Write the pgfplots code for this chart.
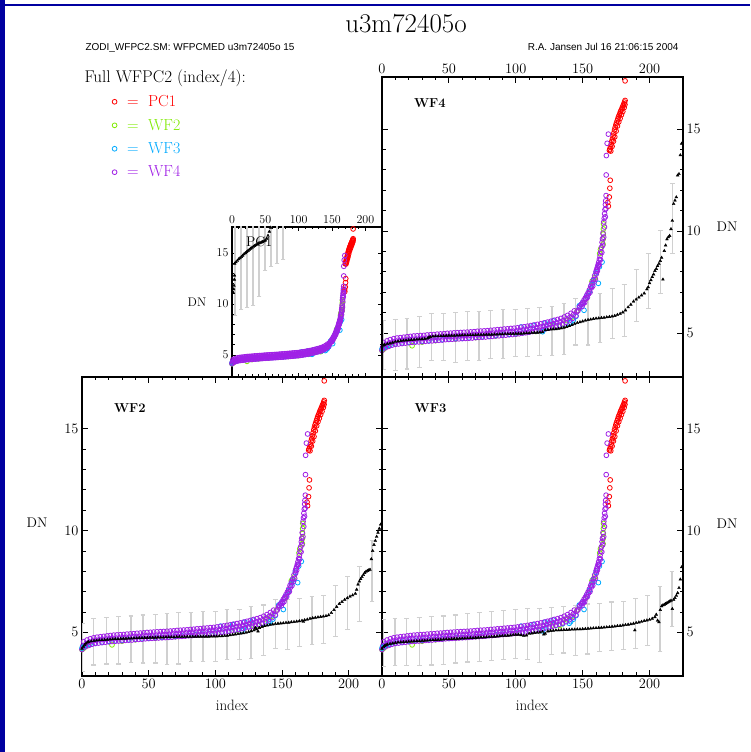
\documentclass[border=0pt]{standalone}
\usepackage{fontspec}
\usepackage{pgfplots}
\usepackage{pgfplotstable}
\pgfplotsset{compat=1.18}
\newfontfamily\hdrfont{Liberation Sans}
\definecolor{cPC}{RGB}{255,0,0}
\definecolor{cWFtwo}{RGB}{128,235,0}
\definecolor{cWFthree}{RGB}{0,170,255}
\definecolor{cWFfour}{RGB}{160,32,230}
\definecolor{errgray}{RGB}{208,208,208}
\definecolor{frameblue}{RGB}{0,0,160}

% ---------- Full WFPC2 sorted samples (index/4), coloured by chip ----------
\pgfplotstableread{
x y
168.8 11.40
169.2 11.22
169.9 11.67
170.3 12.10
170.6 12.49
170.0 13.95
170.3 14.02
170.8 14.12
171.3 14.25
171.8 14.40
172.3 14.52
172.8 14.66
173.3 14.80
173.8 14.95
174.3 15.08
174.8 15.20
175.3 15.30
175.8 15.40
176.3 15.50
176.8 15.60
177.3 15.68
177.8 15.76
178.3 15.85
178.8 15.93
179.3 16.00
179.8 16.08
180.3 16.16
180.8 16.24
181.3 16.32
181.7 16.40
171.0 13.92
172.0 14.15
173.0 14.40
174.0 14.62
175.0 14.90
176.0 15.15
177.0 15.35
178.0 15.52
179.0 15.70
180.0 15.86
181.0 16.05
181.6 16.20
181.7 17.36
}\pcc
\pgfplotstableread{
x y
0 4.15
1 4.20
2.5 4.30
5 4.40
22.5 4.38
30 4.56
40 4.63
55 4.71
70 4.78
85 4.86
100 4.95
115 5.08
127.5 5.36
133 5.33
138 5.62
142 5.78
146 6.10
152 6.65
155 7.05
157 7.54
159 7.72
162.75 8.90
163.3 9.10
165.2 9.36
165.3 9.60
165.4 9.85
165.5 10.10
165.6 10.35
}\wftwoc
\pgfplotstableread{
x y
0 4.22
1 4.28
2 4.33
3.5 4.38
6 4.42
10 4.47
15 4.52
20 4.56
25 4.58
30 4.61
35 4.63
40 4.66
45 4.68
50 4.71
55 4.73
60 4.75
65 4.77
70 4.80
75 4.82
80 4.85
85 4.88
90 4.91
95 4.94
100 4.97
104 5.30
105 5.01
110 5.06
113 5.38
115 5.11
120 5.07
121 5.18
122 5.50
125 5.27
128 5.60
130 5.34
135 5.42
140 5.44
141 5.52
143 5.64
145 5.82
147.5 6.34
149 6.40
150 6.50
151 6.12
153 6.78
155 7.05
157 7.38
158 7.58
160 7.95
161.75 7.44
162.5 8.25
164.5 8.48
}\wfthreec
\pgfplotstableread{
x y
0 4.15
2.5 4.28
5 4.35
7.5 4.41
10 4.45
12.5 4.47
15 4.49
17.5 4.51
20 4.53
22.5 4.55
25 4.56
27.5 4.57
30 4.58
32.5 4.60
35 4.61
37.5 4.62
40 4.64
42.5 4.65
45 4.66
47.5 4.68
50 4.69
52.5 4.70
55 4.71
57.5 4.72
60 4.73
62.5 4.74
65 4.75
67.5 4.76
70 4.78
72.5 4.79
75 4.80
77.5 4.81
80 4.83
82.5 4.84
85 4.86
87.5 4.87
90 4.89
92.5 4.90
95 4.92
97.5 4.93
100 4.95
102.5 4.97
105 5.00
107.5 5.02
110 5.05
112.5 5.08
115 5.11
117.5 5.14
120 5.18
122.5 5.22
125 5.26
127.5 5.30
130 5.35
132.5 5.39
135 5.45
137.5 5.52
140 5.61
142.5 5.72
145 5.85
0.6 4.33
3.1 4.45
5.6 4.52
8.1 4.57
10.6 4.61
13.1 4.63
15.6 4.65
18.1 4.67
20.6 4.69
23.1 4.70
25.6 4.71
28.1 4.72
30.6 4.74
33.1 4.75
35.6 4.76
38.1 4.78
40.6 4.79
43.1 4.80
45.6 4.82
48.1 4.83
50.6 4.84
53.1 4.85
55.6 4.86
58.1 4.87
60.6 4.88
63.1 4.89
65.6 4.90
68.1 4.92
70.6 4.93
73.1 4.94
75.6 4.95
78.1 4.97
80.6 4.98
83.1 5.00
85.6 5.01
88.1 5.03
90.6 5.04
93.1 5.06
95.6 5.07
98.1 5.09
100.6 5.11
103.1 5.13
105.6 5.16
108.1 5.18
110.6 5.21
113.1 5.24
115.6 5.27
118.1 5.30
120.6 5.34
123.1 5.38
125.6 5.42
128.1 5.46
130.6 5.51
133.1 5.56
135.6 5.62
138.1 5.70
140.6 5.79
143.1 5.91
145.6 6.04
1.25 4.54
3.75 4.62
6.25 4.68
8.75 4.73
11.25 4.76
13.75 4.78
16.25 4.80
18.75 4.82
21.25 4.84
23.75 4.86
26.25 4.87
28.75 4.88
31.25 4.89
33.75 4.91
36.25 4.92
38.75 4.93
41.25 4.95
43.75 4.96
46.25 4.97
48.75 4.99
51.25 5.00
53.75 5.01
56.25 5.02
58.75 5.03
61.25 5.04
63.75 5.05
66.25 5.06
68.75 5.07
71.25 5.09
73.75 5.10
76.25 5.11
78.75 5.12
81.25 5.14
83.75 5.15
86.25 5.17
88.75 5.18
91.25 5.20
93.75 5.21
96.25 5.23
98.75 5.24
101.25 5.26
103.75 5.29
106.25 5.31
108.75 5.34
111.25 5.37
113.75 5.40
116.25 5.43
118.75 5.46
121.25 5.50
123.75 5.54
126.25 5.58
128.75 5.63
131.25 5.67
133.75 5.72
136.25 5.79
138.75 5.87
141.25 5.97
143.75 6.09
146.5 6.10
147.5 6.25
148 6.32
149 6.40
150 6.50
151 6.62
152 6.72
153 6.85
154 6.97
155 7.12
156 7.30
157 7.45
158 7.62
159 7.82
160 8.02
160.5 8.12
161 8.22
161.5 8.34
162 8.47
162.5 8.62
163 8.78
163.5 8.98
164 9.20
164.5 9.45
164.8 9.62
165.2 9.90
165.8 10.45
166.1 10.62
166.4 10.85
166.7 11.05
167 11.30
167.2 11.48
167.5 11.74
167.6 12.75
167.7 13.70
168.3 14.30
169.2 14.75
150.5 6.45
152.5 6.68
154.5 6.93
156.5 7.22
158.5 7.50
160.2 7.90
161.8 8.30
149.5 6.30
151.5 6.50
153.5 6.75
155.5 7.00
157.5 7.30
159.5 7.65
161 8.05
162.3 8.35
163.3 8.60
164.3 8.95
165 9.30
165.7 9.70
166.3 10.20
166.9 10.70
167.4 11.10
}\wffourc

% ---------- per-chip sorted values (black triangles) ----------
\pgfplotstableread{
x y
2 11.10
2.5 11.45
3 11.80
3.5 12.40
3.7 12.80
4 13.97
6 14.10
8 14.25
10 14.40
12 14.50
14 14.62
16 14.75
18 14.88
20 15.00
22 15.10
24 15.22
26 15.33
28 15.44
30 15.54
32 15.62
34 15.70
36 15.79
38 15.87
40 15.95
42 16.00
44 16.05
46 16.10
48 16.17
50 16.23
52 16.40
54 16.70
56 17.10
58 17.50
60 18.00
}\pcb
\pgfplotstableread{
x y
0 4.20
1 4.30
2 4.38
3 4.45
4 4.50
5 4.53
7 4.56
9 4.58
11 4.60
13 4.61
15 4.62
17 4.63
19 4.64
21 4.65
23 4.66
25 4.67
27 4.67
29 4.68
31 4.69
33 4.69
35 4.70
37 4.70
39 4.71
41 4.71
43 4.72
45 4.72
47 4.73
49 4.73
51 4.74
53 4.74
55 4.74
57 4.75
59 4.75
61 4.75
63 4.76
65 4.76
67 4.76
69 4.76
71 4.77
73 4.77
75 4.77
77 4.77
79 4.78
81 4.78
83 4.78
85 4.78
87 4.79
89 4.79
91 4.79
93 4.79
95 4.79
97 4.80
99 4.80
101 4.80
103 4.81
105 4.81
107 4.82
109 4.84
111 4.86
113 4.88
115 4.90
117 4.92
119 4.94
121 4.96
123 4.98
125 5.02
127 5.06
129 5.10
130 5.22
131 5.15
132 5.05
133 5.22
135 5.27
137 5.31
139 5.34
141 5.37
143 5.39
145 5.41
147 5.43
149 5.44
151 5.45
153 5.47
155 5.48
157 5.50
159 5.51
161 5.53
163 5.55
165 5.57
166 5.52
167 5.60
169 5.63
171 5.67
173 5.70
175 5.72
177 5.74
179 5.76
181 5.78
183 5.80
185 5.84
187 5.95
189 6.10
191 6.25
193 6.40
195 6.50
197 6.60
199 6.68
201 6.76
203 6.82
205 6.90
206 7.10
207 7.35
208 7.50
209 7.62
210 7.72
211 7.82
212 7.92
213 7.98
214 8.02
215 8.05
216 8.08
217 8.60
218 9.00
219 9.30
220 9.50
221 9.70
222 9.90
223 10.10
224 10.30
}\wftwob
\pgfplotstableread{
x y
0 4.20
1 4.28
2 4.33
3 4.37
4 4.40
6 4.43
8 4.46
10 4.48
12 4.50
14 4.51
16 4.52
18 4.53
20 4.54
22 4.55
24 4.56
26 4.57
28 4.57
30 4.58
32 4.59
34 4.60
36 4.61
38 4.62
40 4.62
42 4.63
44 4.64
46 4.65
48 4.66
50 4.66
52 4.67
54 4.68
56 4.68
58 4.69
60 4.70
62 4.70
64 4.71
66 4.72
68 4.72
70 4.73
72 4.74
74 4.75
76 4.75
78 4.76
80 4.77
82 4.78
84 4.79
86 4.80
88 4.81
90 4.82
92 4.83
94 4.84
96 4.85
98 4.87
100 4.88
102 4.89
104 4.86
106 4.83
108 4.85
110 4.93
112 4.95
114 4.97
116 4.98
118 5.00
120 5.03
121 4.90
122 4.93
124 5.05
126 5.07
128 5.08
130 5.10
132 5.10
134 5.11
136 5.12
138 5.12
140 5.13
142 5.14
144 5.14
146 5.15
148 5.15
150 5.16
152 5.17
154 5.18
156 5.19
158 5.20
160 5.21
162 5.22
164 5.23
166 5.24
168 5.25
170 5.26
172 5.28
174 5.29
176 5.31
178 5.32
180 5.34
182 5.36
184 5.38
186 5.40
188 5.43
189 5.10
190 5.46
192 5.49
194 5.52
196 5.56
198 5.59
200 5.62
202 5.67
204 5.75
205 5.87
206 5.58
207 5.50
208 6.10
209 6.28
210 6.33
211 6.36
212 6.40
213 6.44
214 6.48
215 6.52
216 6.56
217 6.15
218 6.60
219 6.69
220 6.80
221 6.93
222 7.18
223 7.60
224 8.20
}\wfthreeb
\pgfplotstableread{
x y
0 4.35
1 4.40
2 4.43
4 4.47
6 4.50
8 4.54
10 4.58
12 4.60
14 4.62
16 4.64
18 4.65
20 4.66
22 4.67
24 4.68
26 4.69
28 4.70
30 4.71
32 4.72
34 4.74
35 4.78
36 4.82
38 4.84
40 4.85
42 4.85
44 4.86
46 4.86
48 4.87
50 4.88
52 4.88
54 4.88
56 4.89
58 4.89
60 4.90
62 4.90
64 4.90
66 4.91
68 4.91
70 4.91
72 4.92
74 4.92
76 4.92
78 4.93
80 4.93
82 4.93
84 4.94
86 4.94
88 4.95
90 4.95
92 4.96
94 4.96
96 4.96
98 4.97
100 4.97
102 4.98
104 4.98
106 4.99
108 5.00
110 5.00
112 5.01
114 5.02
116 5.03
118 5.04
120 5.05
122 5.15
124 5.16
126 5.18
128 5.19
130 5.20
132 5.22
134 5.24
136 5.27
138 5.31
140 5.35
142 5.40
144 5.45
146 5.50
148 5.54
150 5.58
152 5.62
154 5.65
156 5.67
158 5.70
160 5.72
162 5.73
164 5.75
166 5.76
168 5.78
170 5.80
172 5.82
174 5.85
176 5.90
178 5.95
180 6.02
182 6.12
184 6.27
186 6.40
188 6.55
190 6.65
192 6.75
194 6.85
196 6.95
198 7.15
199 7.25
200 7.45
201 7.60
202 7.75
203 7.88
204 8.05
205 8.15
206 8.29
207 8.40
208 8.54
209 8.70
210 7.63
211 9.03
212 9.30
213 9.60
214 9.70
215 9.77
216 10.10
217 10.51
218 11.33
219 11.50
220 11.66
221 12.73
222 12.80
223 13.72
224 14.29
}\wffourb

% ---------- binned error bars ----------
\pgfplotstableread{
x y e
4.5 13.88 5
13.5 14.43 5
22.5 14.66 5
31.5 14.85 5
40.5 15.70 5
49.5 18.30 5
58.5 18.64 5
67.5 18.97 5
76.5 19.36 5
}\pce
\pgfplotstableread{
x y e
0.3 4.25 1.20
8.75 4.54 1.15
18.25 4.59 1.15
27.5 4.60 1.16
36.75 4.65 1.15
45.75 4.67 1.18
55 4.69 1.20
63.75 4.68 1.25
72.5 4.70 1.26
81.75 4.76 1.20
90.75 4.78 1.23
100 4.79 1.23
108.75 4.87 1.23
118 4.90 1.23
126.75 4.99 1.27
136.25 5.09 1.25
145 5.40 1.19
154.25 5.38 1.24
163.25 5.48 1.19
172.5 5.57 1.19
181.25 5.64 1.18
190 6.03 1.25
199.25 6.44 1.30
208.25 6.88 1.35
217.5 8.00 1.50
}\wftwoe
\pgfplotstableread{
x y e
1 4.48 1.15
9.75 4.51 1.15
18.5 4.52 1.17
27.75 4.56 1.18
36.75 4.58 1.19
45.75 4.60 1.20
54.75 4.67 1.18
63.75 4.74 1.20
72.75 4.76 1.19
81.75 4.82 1.20
90.75 4.86 1.20
99.75 4.90 1.21
108.75 4.90 1.25
117.75 4.84 1.31
126.75 5.05 1.15
135.75 5.13 1.15
144.75 5.09 1.24
153.75 5.16 1.23
162.75 5.24 1.17
171.75 5.30 1.19
180.75 5.34 1.19
189.75 5.42 1.22
198.75 5.57 1.23
207.75 5.67 1.60
216.75 6.62 1.35
}\wfthreee
\pgfplotstableread{
x y e
1 4.40 1.20
10 4.42 1.23
18.75 4.47 1.23
28 4.56 1.26
37 4.80 1.15
45.75 4.83 1.15
55 4.80 1.23
63.75 4.87 1.20
72.5 4.87 1.20
81.25 4.94 1.18
90.5 4.96 1.19
99.5 5.00 1.15
108.75 5.02 1.18
117.5 5.08 1.18
127 5.11 1.21
136 5.21 1.24
144.8 5.55 1.13
154 5.55 1.13
163 5.74 1.20
172 5.96 1.21
181 6.10 1.28
190 6.85 1.28
199 7.57 1.35
208 8.50 1.55
217 10.62 1.70
}\wffoure

\pgfplotsset{
  chip/.style={
    scale only axis, xmin=0, xmax=225, ymin=2.85, ymax=17.55,
    clip=true,
    tick align=inside,
    xtick={0,50,100,150,200}, ytick={5,10,15},
    minor x tick num=4, minor y tick num=4,
    major tick length=6pt, minor tick length=3.5pt,
    every tick/.style={black, line width=0.8pt},
    axis line style={line width=1.2pt},
    tick label style={font=\fontsize{14}{16}\selectfont},
  },
  circ/.style={only marks, mark=o, mark size=2.4pt, color=#1, mark options={line width=0.8pt}},
  tri/.style={forget plot, only marks, mark=triangle*, mark size=1.6pt, color=black},
  ebar/.style={forget plot, draw=none, mark=none,
    error bars/.cd, y dir=both, y explicit, error mark=-,
    error bar style={draw=errgray, line width=1.2pt},
    error mark options={rotate=90, draw=errgray, line width=1.1pt, mark size=2.4pt}},
}

\newcommand{\colouredsamples}{%
  \addplot[circ=cPC] table[x=x,y=y] {\pcc};
  \addplot[circ=cWFtwo] table[x=x,y=y] {\wftwoc};
  \addplot[circ=cWFthree] table[x=x,y=y] {\wfthreec};
  \addplot[circ=cWFfour] table[x=x,y=y] {\wffourc};
}

\begin{document}
\begin{tikzpicture}
\useasboundingbox (0pt,0pt) rectangle (750pt,752pt);
\fill[white] (0pt,0pt) rectangle (750pt,752pt);
\fill[frameblue] (0pt,0pt) rectangle (4.5pt,752pt);
\fill[frameblue] (0pt,746.3pt) rectangle (750pt,748.2pt);

% ---- WF2 (bottom left)
\begin{axis}[chip, at={(82pt,76pt)}, anchor=south west, width=300pt, height=299pt,
  xtick pos=both, ytick pos=both, xticklabel pos=left, yticklabel pos=left,
  legend style={draw=none, fill=none, at={(axis description cs:0.1,1.949)}, anchor=north west,
    font=\fontsize{16}{19}\selectfont, row sep=7pt, inner sep=0pt,
    /tikz/every odd column/.append style={column sep=8pt}},
  legend cell align=left]
  \addplot[ebar] table[x=x,y=y,y error=e] {\wftwoe};
  \colouredsamples
  \addlegendentry{\textcolor{cPC}{=\hspace{0.6em}PC1}}
  \addlegendentry{\textcolor{cWFtwo}{=\hspace{0.6em}WF2}}
  \addlegendentry{\textcolor{cWFthree}{=\hspace{0.6em}WF3}}
  \addlegendentry{\textcolor{cWFfour}{=\hspace{0.6em}WF4}}
  \node[anchor=west, font=\fontsize{13}{15}\selectfont\bfseries] at (axis description cs:0.095,0.897) {WF2};
  \addplot[tri] table[x=x,y=y] {\wftwob};
\end{axis}

% ---- WF3 (bottom right)
\begin{axis}[chip, at={(382pt,76pt)}, anchor=south west, width=301pt, height=299pt,
  xtick pos=both, ytick pos=both, xticklabel pos=left, yticklabel pos=right]
  \addplot[ebar] table[x=x,y=y,y error=e] {\wfthreee};
  \colouredsamples
  \node[anchor=west, font=\fontsize{13}{15}\selectfont\bfseries] at (axis description cs:0.097,0.897) {WF3};
  \addplot[tri] table[x=x,y=y] {\wfthreeb};
\end{axis}

% ---- WF4 (top right)
\begin{axis}[chip, at={(382pt,375pt)}, anchor=south west, width=301pt, height=300pt,
  xtick pos=both, ytick pos=both, xticklabel pos=right, yticklabel pos=right]
  \addplot[ebar] table[x=x,y=y,y error=e] {\wffoure};
  \colouredsamples
  \node[anchor=west, font=\fontsize{13}{15}\selectfont\bfseries] at (axis description cs:0.095,0.913) {WF4};
  \addplot[tri] table[x=x,y=y] {\wffourb};
\end{axis}

% ---- PC1 (inset, half size)
\begin{axis}[chip, at={(232pt,375pt)}, anchor=south west, width=150pt, height=150pt,
  xtick pos=both, ytick pos=both, xticklabel pos=right, yticklabel pos=left,
  major tick length=4pt, minor tick length=2.5pt,
  tick label style={font=\fontsize{12}{14}\selectfont}]
  \addplot[ebar] table[x=x,y=y,y error=e] {\pce};
  \colouredsamples
  \node[anchor=west, font=\fontsize{14}{16}\selectfont] at (axis description cs:0.07,0.9) {PC1};
  \addplot[tri] table[x=x,y=y] {\pcb};
\end{axis}

% ---- texts around the panels
\node[anchor=base, font=\fontsize{27}{30}\selectfont] at (406pt,719pt) {u3m72405o};
\node[anchor=base west, font=\hdrfont\fontsize{10}{12}\selectfont] at (82pt,701pt) {ZODI\_WFPC2.SM: WFPCMED u3m72405o 15};
\node[anchor=base east, font=\hdrfont\fontsize{10}{12}\selectfont] at (682pt,701pt) {R.A. Jansen Jul 16 21:06:15 2004};
\node[anchor=base west, font=\fontsize{17}{20}\selectfont] at (81pt,669pt) {Full WFPC2 (index/4):};
\node[font=\fontsize{14}{16}\selectfont] at (37pt,229pt) {DN};
\node[font=\fontsize{14}{16}\selectfont] at (727pt,228pt) {DN};
\node[font=\fontsize{14}{16}\selectfont] at (727pt,525pt) {DN};
\node[font=\fontsize{12.5}{14}\selectfont] at (197pt,450pt) {DN};
\node[font=\fontsize{15}{17}\selectfont] at (232pt,47pt) {index};
\node[font=\fontsize{15}{17}\selectfont] at (532pt,47pt) {index};
\end{tikzpicture}
\end{document}
